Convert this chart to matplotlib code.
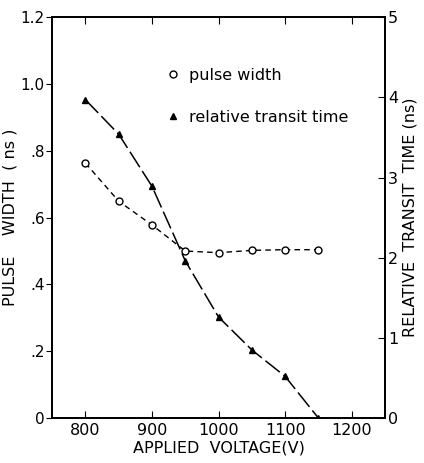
import numpy as np
import matplotlib.pyplot as plt

plt.rcParams['font.family'] = ['DejaVu Sans']

voltage = [800, 850, 900, 950, 1000, 1050, 1100, 1150]
pulse_width = [0.763, 0.649, 0.578, 0.500, 0.495, 0.502, 0.504, 0.504]   # ns
transit_time = [3.97, 3.54, 2.89, 1.96, 1.26, 0.85, 0.52, 0.0]          # ns

fig = plt.figure(figsize=(4.24, 4.63), dpi=100)
ax = fig.add_axes([0.123, 0.097, 0.785, 0.866])
ax2 = ax.twinx()

ax.plot(voltage, pulse_width, color='k', linestyle=(0, (4, 3)), lw=1.0,
        marker='o', mfc='white', mec='k', ms=5, mew=1.0, label='pulse width')
ax2.plot(voltage, transit_time, color='k', linestyle=(0, (12, 3)), lw=1.1,
         marker='^', mfc='k', mec='k', ms=5, label='relative transit time')

ax.set_xlim(750, 1250)
ax.set_ylim(0, 1.2)
ax2.set_ylim(0, 5)

ax.set_xticks([800, 900, 1000, 1100, 1200])
ax.set_yticks([0, 0.2, 0.4, 0.6, 0.8, 1.0, 1.2])
ax.set_yticklabels(['0', '.2', '.4', '.6', '.8', '1.0', '1.2'])
ax2.set_yticks([0, 1, 2, 3, 4, 5])

ax.tick_params(axis='x', direction='in', top=True, length=5, labelsize=11.5)
ax.tick_params(axis='y', direction='out', length=4, pad=1.5, labelsize=11)
ax2.tick_params(axis='y', direction='in', length=5, pad=2, labelsize=11.5)

ax.set_xlabel('APPLIED  VOLTAGE(V)', fontsize=11.5, labelpad=2)
ax.set_ylabel('PULSE    WIDTH  ( ns )', fontsize=11.5, labelpad=2)
ax2.set_ylabel('RELATIVE  TRANSIT  TIME (ns)', fontsize=11.5, labelpad=3)

for a in (ax, ax2):
    for s in a.spines.values():
        s.set_linewidth(1.3)

l1 = ax.get_legend_handles_labels()[1]
l2 = ax2.get_legend_handles_labels()[1]
ax.legend([plt.Line2D([], [], ls='none', marker='o', mfc='white', mec='k', ms=5),
           plt.Line2D([], [], ls='none', marker='^', mfc='k', mec='k', ms=5)],
          l1 + l2, loc='upper left', bbox_to_anchor=(0.30, 0.91), frameon=False,
          fontsize=11.5, handlelength=0.8, handletextpad=0.6, labelspacing=1.7)

fig.savefig('out.png', dpi=100)
